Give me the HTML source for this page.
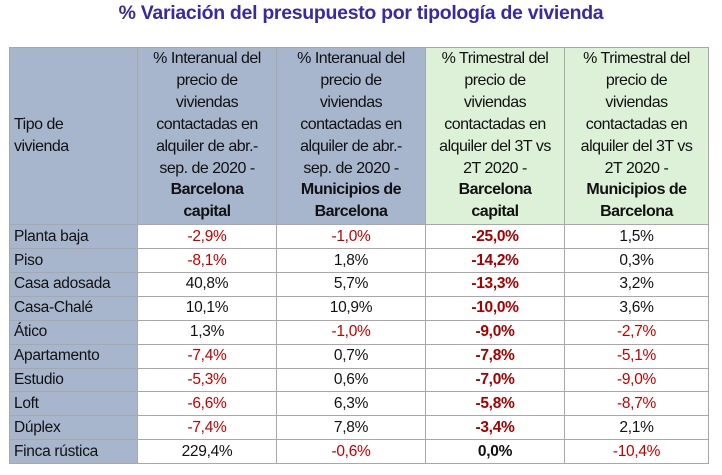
<!DOCTYPE html>
<html><head><meta charset="utf-8">
<style>
html,body{margin:0;padding:0;background:#fff;width:722px;height:475px;overflow:hidden;font-family:"Liberation Sans",sans-serif;}
#title{position:absolute;left:0;top:1px;width:722px;text-align:center;font-weight:bold;font-size:19.5px;color:#3b2a9e;line-height:24px;letter-spacing:-0.3px;}
table{position:absolute;left:9px;top:47px;border-collapse:collapse;table-layout:fixed;width:699px;}
td,th{border:1px solid #a8a8a8;padding:0;color:#111;}
th{font-weight:normal;line-height:21.9px;vertical-align:bottom;text-align:center;height:175px;letter-spacing:-0.5px;white-space:nowrap;font-size:16px;padding-bottom:1px;}
th.b{background:#a7b5cd;} th.g{background:#ddf0d8;}
th.first{text-align:left;vertical-align:middle;padding-left:4px;}
td{height:22.9px;text-align:center;line-height:22px;font-size:15.5px;letter-spacing:-0.3px;}
td.lab{background:#a7b5cd;text-align:left;padding-left:4px;}
.neg{color:#c00000;} .bold{font-weight:bold;} .bneg{color:#a50000;font-weight:bold;}
</style></head><body>
<div id="title">% Variación del presupuesto por tipología de vivienda</div>
<table>
<colgroup><col style="width:128px"><col style="width:139px"><col style="width:149px"><col style="width:139px"><col style="width:144px"></colgroup>
<thead><tr>
<th class="b first">Tipo de<br>vivienda</th>
<th class="b">% Interanual del<br>precio de<br>viviendas<br>contactadas en<br>alquiler de abr.-<br>sep. de 2020 -<br><b>Barcelona<br>capital</b></th>
<th class="b">% Interanual del<br>precio de<br>viviendas<br>contactadas en<br>alquiler de abr.-<br>sep. de 2020 -<br><b>Municipios de<br>Barcelona</b></th>
<th class="g">% Trimestral del<br>precio de<br>viviendas<br>contactadas en<br>alquiler del 3T vs<br>2T 2020 -<br><b>Barcelona<br>capital</b></th>
<th class="g">% Trimestral del<br>precio de<br>viviendas<br>contactadas en<br>alquiler del 3T vs<br>2T 2020 -<br><b>Municipios de<br>Barcelona</b></th>
</tr></thead>
<tbody id="tb"></tbody>
</table>
<script>
const categories=["Planta baja","Piso","Casa adosada","Casa-Chalé","Ático","Apartamento","Estudio","Loft","Dúplex","Finca rústica"];
const interanualBcn=[-2.9,-8.1,40.8,10.1,1.3,-7.4,-5.3,-6.6,-7.4,229.4];
const interanualMun=[-1.0,1.8,5.7,10.9,-1.0,0.7,0.6,6.3,7.8,-0.6];
const trimestralBcn=[-25.0,-14.2,-13.3,-10.0,-9.0,-7.8,-7.0,-5.8,-3.4,0.0];
const trimestralMun=[1.5,0.3,3.2,3.6,-2.7,-5.1,-9.0,-8.7,2.1,-10.4];
const series=[interanualBcn,interanualMun,trimestralBcn,trimestralMun];
const seriesNames=['interanual-bcn','interanual-mun','trimestral-bcn','trimestral-mun'];
const tb=document.getElementById('tb');
function fmt(v){return v.toFixed(1).replace('.',',')+'%';}
categories.forEach((c,i)=>{
  const tr=document.createElement('tr');
  
  
  const l=document.createElement('td');l.className='lab';l.textContent=c;
  
  
  tr.appendChild(l);
  series.forEach((s,j)=>{
    const td=document.createElement('td');
    const v=s[i];
    td.textContent=fmt(v);
    if(j===2){td.className=v<0?'bneg':'bold';}
    else if(v<0){td.className='neg';}
    
    
    tr.appendChild(td);
  });
  tb.appendChild(tr);
});
</script>
</body></html>
